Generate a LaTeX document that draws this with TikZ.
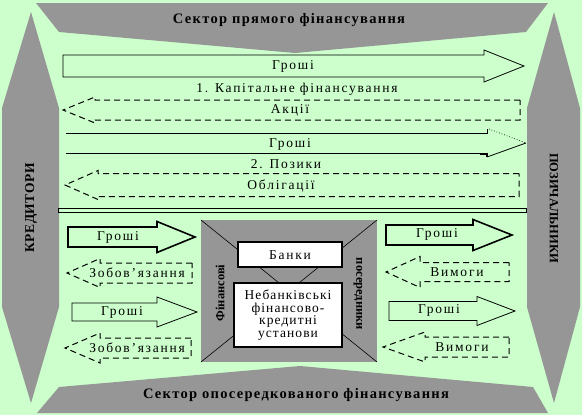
\documentclass[tikz,border=0pt]{standalone}
\usepackage{fontspec}
\setmainfont{Liberation Serif}
\definecolor{bgg}{RGB}{204,255,204}
\definecolor{grz}{RGB}{150,150,150}
\newcommand\RArr[7]{\draw[#1] (#2,{#5-#6}) -- (#3,{#5-#6}) -- (#3,{#5-#7}) -- (#4,#5) -- (#3,{#5+#7}) -- (#3,{#5+#6}) -- (#2,{#5+#6}) -- cycle;}
\newcommand\LArr[7]{\draw[#1] (#2,{#5-#6}) -- (#3,{#5-#6}) -- (#3,{#5-#7}) -- (#4,#5) -- (#3,{#5+#7}) -- (#3,{#5+#6}) -- (#2,{#5+#6}) -- cycle;}
\tikzset{
  lbl/.style={inner sep=0pt,font=\fontsize{13.5}{14}\selectfont\addfontfeature{LetterSpace=13}},
  ttl/.style={inner sep=0pt,font=\fontsize{14.5}{15}\selectfont\bfseries\addfontfeature{LetterSpace=9}},
  vtl/.style={inner sep=0pt,font=\fontsize{12.5}{13}\selectfont\bfseries},
  sol/.style={draw=black,line width=0.8pt},
  thk/.style={draw=black,line width=1.6pt},
  dsh/.style={draw=black,line width=1pt,dash pattern=on 6pt off 4pt},
}
\begin{document}
\begin{tikzpicture}[x=1pt,y=-1pt]
\useasboundingbox (0,0) rectangle (582,415);
\fill[bgg] (0,0) rectangle (582,415);
% sectors
\fill[grz] (36,3) -- (548,3) -- (526,32) -- (295,53) -- (59,32) -- cycle;
\fill[grz] (37,413) -- (548,413) -- (533,387) -- (300,366) -- (59,387) -- cycle;
\node[ttl] (top) at (289,20) {Сектор прямого фінансування};
\node[ttl] (bot) at (296,395) {Сектор опосередкованого фінансування};
% side columns
\fill[grz] (31,12) -- (59,108) -- (59,307) -- (31,403) -- (2,307) -- (2,108) -- cycle;
\fill[grz] (554,12) -- (580,108) -- (580,307) -- (554,403) -- (527,307) -- (527,108) -- cycle;
\node[vtl,rotate=90,font=\fontsize{13.5}{14}\selectfont\bfseries\addfontfeature{LetterSpace=4}] (kred) at (31,208) {КРЕДИТОРИ};
\node[vtl,rotate=-90] (pozy) at (554,208) {ПОЗИЧАЛЬНИКИ};
% direct financing
\RArr{sol}{63}{484}{524}{66}{11}{16}
\node[lbl] (g1) at (293,66) {Гроші};
\node[lbl] (cap) at (297,89) {1. Капітальне фінансування};
\LArr{dsh}{520}{95}{63}{110}{10}{13}
\node[lbl] (akc) at (290,110) {Акції};
\draw[sol] (66,133) -- (487,133) -- (487,129);
\draw[black,line width=0.7pt,dotted] (489,129) -- (526,143);
\draw[sol] (66,153) -- (480,153);
\draw[thk] (480,154) -- (487,154) -- (487,157);
\draw[sol] (487,157) -- (526,143);
\node[lbl] (g2) at (290,144) {Гроші};
\node[lbl] (poz) at (286,164) {2. Позики};
\LArr{dsh}{519}{98}{65}{185}{11.5}{14.5}
\node[lbl] (obl) at (281,186) {Облігації};
\draw[black,line width=1pt] (58,208) rectangle (526,212);
% intermediaries
\fill[grz] (201,220) rectangle (377,362);
\draw[black,line width=0.6pt] (201,220) -- (377,362) (377,220) -- (201,362);
\draw[black,line width=2pt,fill=white] (238,242) rectangle (342,267);
\node[lbl] (bank) at (290,255) {Банки};
\draw[black,line width=2pt,fill=white] (234,283) rectangle (342,347);
\node[lbl,align=center,font=\fontsize{13.5}{12.5}\selectfont\addfontfeature{LetterSpace=8}] (nbank) at (288,315) {Небанківські\\фінансово-\\кредитні\\установи};
\node[vtl,rotate=90] (fin) at (220,293) {Фінансові};
\node[vtl,rotate=-90] (pos) at (358,294) {посередники};
% left side
\RArr{thk}{68}{157}{195}{237}{10}{15.5}
\node[lbl] (g3) at (118,237) {Гроші};
\LArr{dsh}{192}{100}{67}{273}{10}{14.5}
\node[lbl] (z1) at (137,273) {Зобов’язання};
\RArr{sol}{72}{157}{197}{312}{9}{15}
\node[lbl] (g4) at (122,312) {Гроші};
\LArr{dsh}{191}{100}{65}{348}{10}{15}
\node[lbl] (z2) at (137,348) {Зобов’язання};
% right side
\RArr{thk}{386}{473}{512}{235}{10}{15.5}
\node[lbl] (g5) at (437,234) {Гроші};
\LArr{dsh}{509}{420}{386}{272}{9.5}{15.5}
\node[lbl] (v1) at (457,272) {Вимоги};
\RArr{sol}{389}{477}{515}{311}{9.5}{14.5}
\node[lbl] (g6) at (439,310) {Гроші};
\LArr{dsh}{509}{425}{383}{347}{10}{15}
\node[lbl] (v2) at (462,347) {Вимоги};
\end{tikzpicture}
\end{document}
